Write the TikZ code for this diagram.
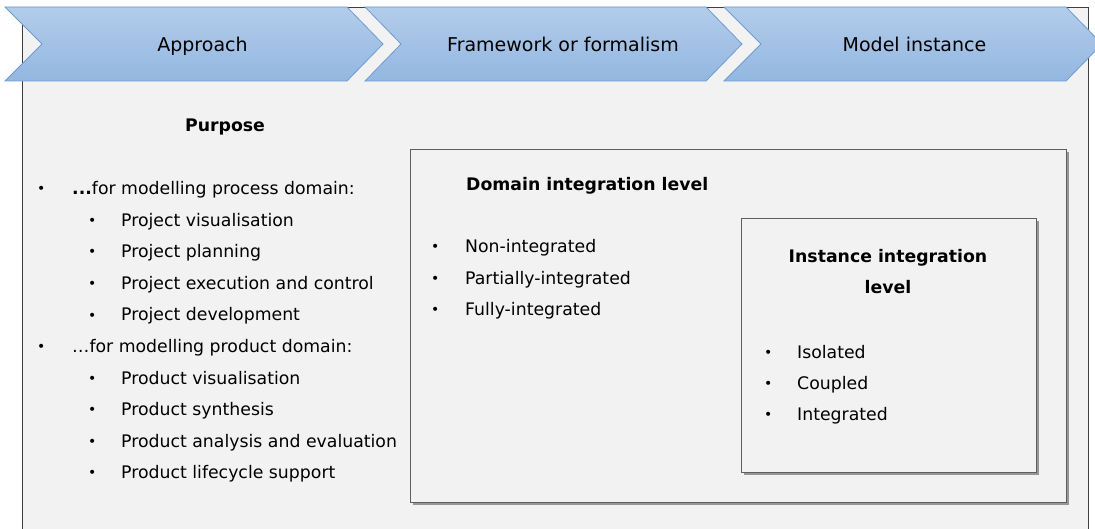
\documentclass[tikz,border=0pt]{standalone}
\usepackage{fontspec}
\setmainfont{DejaVu Sans}
\usetikzlibrary{shadows}
\definecolor{bg}{HTML}{F2F2F2}
\definecolor{cTop}{HTML}{B3CCEA}
\definecolor{cBot}{HTML}{93B7E1}
\definecolor{cEdge}{HTML}{6E9BD2}
\definecolor{boxEdge}{HTML}{5E5E5E}
\definecolor{outerEdge}{HTML}{3F3F3F}
\newcommand\mybul[1]{\makebox[0pt][c]{\raisebox{1pt}{\fontsize{14}{16}\selectfont •}}\hspace{#1}}
\tikzset{
  chev/.style={top color=cTop, bottom color=cBot, draw=cEdge, line width=0.8pt, line join=miter},
  box/.style={draw=boxEdge, line width=0.9pt, fill=bg, inner sep=0pt, anchor=north west,
    drop shadow={shadow xshift=2.5pt, shadow yshift=-2.5pt, opacity=0.55, fill=black!70}},
  item/.style={anchor=base west, inner sep=0pt, font=\fontsize{17.3}{20}\selectfont},
  head/.style={inner sep=0pt, font=\fontsize{17.3}{20}\selectfont\bfseries},
  ctext/.style={anchor=base, inner sep=0pt, font=\fontsize{19}{22}\selectfont}
}
\begin{document}
\begin{tikzpicture}[x=1pt,y=-1pt]
\path[use as bounding box] (0,0) rectangle (1095,529);
\clip (0,0) rectangle (1095,529);
% outer panel
\fill[bg] (22,7) rectangle (1088,540);
\draw[outerEdge, line width=0.9pt] (22,540) -- (22,7) -- (1088,7) -- (1088,540);
% chevrons
\shadedraw[chev] (5,7) -- (347,7) -- (383,44) -- (347,81) -- (5,81) -- (42,44) -- cycle;
\shadedraw[chev] (365,7) -- (706,7) -- (742,44) -- (706,81) -- (365,81) -- (401,44) -- cycle;
\shadedraw[chev] (724,7) -- (1066,7) -- (1102,44) -- (1066,81) -- (724,81) -- (761,44) -- cycle;
\node[ctext] (c1) at (202.5,52) {Approach};
\node[ctext] (c2) at (563,52) {Framework or formalism};
\node[ctext] (c3) at (914.5,52) {Model instance};
% purpose
\node[head, anchor=base] (purpose) at (225,132) {Purpose};
\node[item] (p0) at (41,195) {\mybul{31pt}{\bfseries...}for modelling process domain:};
\node[item] (p1) at (92,226.5) {\mybul{29pt}Project visualisation};
\node[item] (p2) at (92,258) {\mybul{29pt}Project planning};
\node[item] (p3) at (92,289.5) {\mybul{29pt}Project execution and control};
\node[item] (p4) at (92,321) {\mybul{29pt}Project development};
\node[item] (q0) at (41,352.5) {\mybul{31pt}…for modelling product domain:};
\node[item] (q1) at (92,384) {\mybul{29pt}Product visualisation};
\node[item] (q2) at (92,415.5) {\mybul{29pt}Product synthesis};
\node[item] (q3) at (92,447) {\mybul{29pt}Product analysis and evaluation};
\node[item] (q4) at (92,478.5) {\mybul{29pt}Product lifecycle support};
% domain box
\node[box, minimum width=656pt, minimum height=353pt] (dom) at (410,149) {};
\node[head, anchor=base west] (domt) at (466,191) {Domain integration level};
\node[item] (d1) at (435,253) {\mybul{30pt}Non-integrated};
\node[item] (d2) at (435,284.5) {\mybul{30pt}Partially-integrated};
\node[item] (d3) at (435,316) {\mybul{30pt}Fully-integrated};
% instance box
\node[box, minimum width=295pt, minimum height=254pt] (inst) at (741,218) {};
\node[head, anchor=base] (inst1) at (888,263) {Instance integration};
\node[head, anchor=base] (inst2) at (888,294) {level};
\node[item] (i1) at (768,358) {\mybul{29pt}Isolated};
\node[item] (i2) at (768,389) {\mybul{29pt}Coupled};
\node[item] (i3) at (768,420.5) {\mybul{29pt}Integrated};
\end{tikzpicture}
\end{document}
